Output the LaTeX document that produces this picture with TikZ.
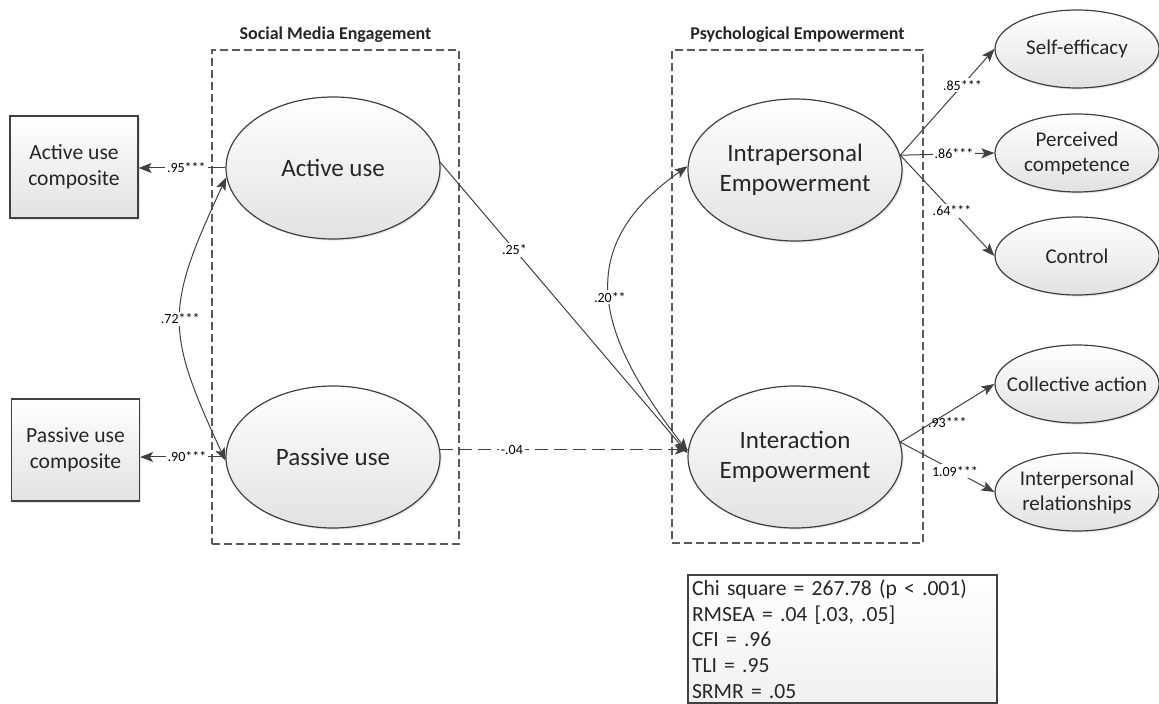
\documentclass[tikz,border=0pt]{standalone}
\usepackage{fontspec}
\setmainfont{Carlito}
\usepackage{xcolor}
\usepackage{tikz}
\usetikzlibrary{shapes,arrows,arrows.meta,positioning,shadows}
\definecolor{semline}{RGB}{64,64,64}
\definecolor{semdash}{RGB}{90,90,90}
\definecolor{semfill}{RGB}{226,226,226}

\begin{document}
\begin{tikzpicture}[x=0.5pt, y=-0.5pt, text=black!85]
    \tikzstyle{latent} = [ellipse, draw=semline, line width=0.6pt, top color=white, bottom color=semfill, drop shadow={shadow xshift=0.8pt, shadow yshift=-0.8pt, opacity=0.2}, inner xsep=-8pt, inner ysep=0pt, align=center]
    \tikzstyle{bigvar} = [latent, minimum width=107pt, minimum height=71pt, font=\fontsize{12.5}{15}\selectfont]
    \tikzstyle{smallvar} = [latent, minimum width=82pt, minimum height=39pt, font=\fontsize{10.5}{12.5}\selectfont]
    \tikzstyle{indicator} = [rectangle, draw=semline, line width=0.6pt, top color=white, bottom color=semfill, drop shadow={shadow xshift=0.8pt, shadow yshift=-0.8pt, opacity=0.2}, minimum width=64pt, minimum height=51pt, align=center, font=\fontsize{10.8}{13}\selectfont]
    \tikzstyle{group} = [rectangle, draw=semdash, dash pattern=on 4pt off 2pt, line width=0.7pt, inner sep=0pt]
    \tikzstyle{grouptitle} = [font=\bfseries\fontsize{9}{11}\selectfont, inner sep=0pt]
    \tikzstyle{arrow} = [semline, line width=0.5pt, ->, >={Stealth[length=6.5pt, width=5pt, inset=1.5pt]}]
    \tikzstyle{corr} = [arrow, <->, looseness=1.3]
    \tikzstyle{lbl} = [font=\fontsize{7}{8}\selectfont, text=black, fill=white, inner sep=1pt]
    \tikzstyle{statbox} = [rectangle, draw=semline, line width=0.6pt, top color=white, bottom color=semfill!50, align=left, text width=150.5pt, minimum height=64pt, inner xsep=2pt, inner ysep=1pt, font=\fontsize{10.8}{12.9}\selectfont]

    \useasboundingbox (0,0) rectangle (1159,704);

    % dashed groups
    \node (semgroup) [group, minimum width=123.5pt, minimum height=247pt] at (335.5,297) {};
    \node (pegroup) [group, minimum width=125.5pt, minimum height=246.5pt] at (797.5,296.5) {};
    \node (semtitle) [grouptitle, above=3pt of semgroup] {Social Media Engagement};
    \node (petitle) [grouptitle, above=3pt of pegroup] {Psychological Empowerment};

    % latent variables
    \node (actuse) [bigvar] at (333,168) {Active use};
    \node (pasuse) [bigvar] at (333,457) {Passive use};
    \node (intra) [bigvar] at (795,170) {Intrapersonal\\Empowerment};
    \node (inter) [bigvar] at (795,457) {Interaction\\Empowerment};

    % indicators
    \node (actcomp) [indicator] at (74,167) {Active use\\composite};
    \node (pascomp) [indicator] at (75.5,450) {Passive use\\composite};
    \node (selfeff) [smallvar] at (1077,49) {Self-efficacy};
    \node (percomp) [smallvar] at (1077,153) {Perceived\\competence};
    \node (control) [smallvar] at (1077,256) {Control};
    \node (collact) [smallvar] at (1077,384) {Collective action};
    \node (interrel) [smallvar] at (1077,492) {Interpersonal\\relationships};

    \node (fitstats) [statbox] at (842.5,639) {Chi square = 267.78 (p < .001)\\RMSEA = .04 [.03, .05]\\CFI = .96\\TLI = .95\\SRMR = .05};

    % paths
    \draw [arrow] (actuse.west) -- node[lbl, pos=0.45] {.95***} (actcomp.east |- actuse.west);
    \draw [arrow] (pasuse.west) -- node[lbl, pos=0.45] {.90***} (pascomp.east |- pasuse.west);
    \draw [corr] (actuse.185) to[out=245, in=115] node[lbl] {.72***} (pasuse.182);

    \draw [arrow] (actuse.3) -- node[lbl, pos=0.3] {.25*} (inter.178);
    \draw [arrow, dash pattern=on 6.5pt off 3pt, line width=0.8pt] (pasuse.4) -- node[lbl, pos=0.29] {-.04} (inter.176);
    \draw [corr] (intra.178) to[out=215, in=128] node[lbl] {.20**} (inter.177);

    \draw [arrow] (intra.8) -- node[lbl, pos=0.66] {.85***} (selfeff.west);
    \draw [arrow] (intra.8) -- node[lbl, pos=0.57] {.86***} (percomp.west);
    \draw [arrow] (intra.8) -- node[lbl, pos=0.55] {.64***} (control.west);
    \draw [arrow] (inter.8) -- node[lbl, fill=none, pos=0.5, yshift=-4.5pt] {.93***} (collact.west);
    \draw [arrow] (inter.8) -- node[lbl, pos=0.58] {1.09***} (interrel.west);
\end{tikzpicture}
\end{document}
